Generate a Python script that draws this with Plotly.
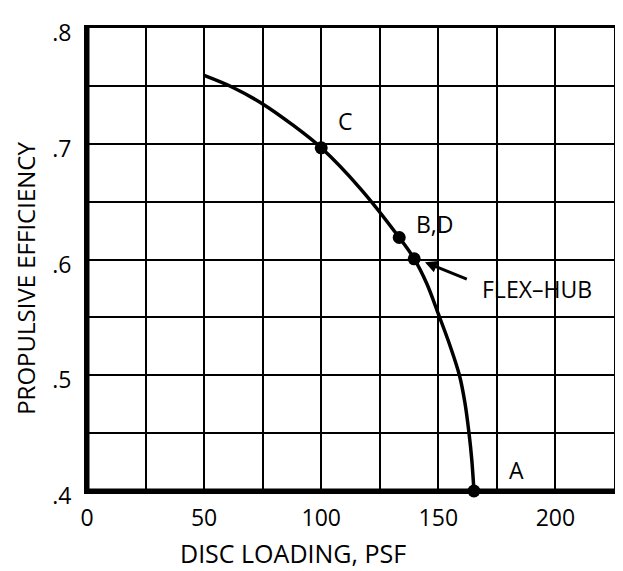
import plotly.graph_objects as go

# Curve
curve_x = [50, 62.5, 75, 87.5, 100, 116.7, 133.3, 139.7, 145, 150, 155, 159, 161.3, 163.1, 164.3, 165.2]
curve_y = [0.759, 0.7484, 0.7344, 0.7167, 0.6965, 0.6613, 0.619, 0.6006, 0.5795, 0.553, 0.5255, 0.5, 0.4769, 0.45, 0.4264, 0.4]

# Marked design points
point_names = ["C", "B,D", "FLEX-HUB", "A"]
point_x = [100, 133.3, 139.7, 165.2]
point_y = [0.6965, 0.619, 0.6006, 0.4]

x_tickvals = [0, 50, 100, 150, 200]
x_ticktext = ["0", "50", "100", "150", "200"]
y_tickvals = [0.4, 0.5, 0.6, 0.7, 0.8]
y_ticktext = [".4", ".5", ".6", ".7", ".8"]

FONT = "Open Sans"

fig = go.Figure()
fig.add_trace(go.Scatter(x=curve_x, y=curve_y, mode="lines",
                         line=dict(color="black", width=3.5, shape="spline", smoothing=1.0),
                         hoverinfo="skip", showlegend=False, cliponaxis=False))
fig.add_trace(go.Scatter(x=point_x, y=point_y, mode="markers", text=point_names,
                         marker=dict(color="black", size=13),
                         showlegend=False, cliponaxis=False))

ann_font = dict(family=FONT, size=23, color="black", weight=500)
annotations = [
    dict(x=110.5, y=0.7195, text="C", showarrow=False, font=ann_font, xref="x", yref="y"),
    dict(x=148.6, y=0.631, text="B,D", showarrow=False, font=ann_font, xref="x", yref="y"),
    dict(x=183.2, y=0.418, text="A", showarrow=False, font=ann_font, xref="x", yref="y"),
    dict(x=192, y=0.5747, text="FLEX\u2013HUB", showarrow=False, font=ann_font, xref="x", yref="y"),
    dict(x=144.3, y=0.5977, ax=162.8, ay=0.5825, axref="x", ayref="y", xref="x", yref="y",
         text="", showarrow=True, arrowhead=2, arrowsize=0.8, arrowwidth=3, arrowcolor="black"),
    dict(x=0.391, y=-0.133, xref="paper", yref="paper", text="DISC LOADING, PSF",
         showarrow=False, font=dict(family=FONT, size=25, color="black", weight=500),
         xanchor="center", yanchor="middle"),
    dict(x=-0.118, y=0.46, xref="paper", yref="paper", text="PROPULSIVE EFFICIENCY",
         showarrow=False, textangle=-90, font=dict(family=FONT, size=24, color="black", weight=500),
         xanchor="center", yanchor="middle"),
]

# the page body adds an 8px offset, so the figure is 8px smaller and margins shifted
fig.update_layout(
    width=615, height=563,
    margin=dict(l=79, r=9, t=20, b=80),
    paper_bgcolor="white", plot_bgcolor="white",
    font=dict(family=FONT, size=23, color="black"),
    annotations=annotations,
    shapes=[
        dict(type="line", xref="paper", yref="paper", x0=0, x1=0, y0=0, y1=1,
             line=dict(color="black", width=5), layer="above"),
        dict(type="line", xref="paper", yref="paper", x0=0, x1=1, y0=0, y1=0,
             line=dict(color="black", width=5), layer="above"),
    ],
)
tickfont = dict(family=FONT, size=23, color="black", weight=500)
fig.update_xaxes(range=[0, 225], tickvals=x_tickvals, ticktext=x_ticktext,
                 showgrid=True, gridcolor="black", gridwidth=2,
                 minor=dict(dtick=25, tick0=0, showgrid=True, gridcolor="black", gridwidth=2),
                 showline=True, linecolor="black", linewidth=3, mirror=True,
                 ticks="", ticklabelstandoff=4, zeroline=False, automargin=False,
                 tickfont=tickfont)
fig.update_yaxes(range=[0.4, 0.8], tickvals=y_tickvals, ticktext=y_ticktext,
                 showgrid=True, gridcolor="black", gridwidth=2,
                 minor=dict(dtick=0.05, tick0=0.4, showgrid=True, gridcolor="black", gridwidth=2),
                 showline=True, linecolor="black", linewidth=3, mirror=True,
                 ticks="", ticklabelstandoff=8, ticklabelshift=5, zeroline=False, automargin=False,
                 tickfont=tickfont)

fig.write_html("out.html")
